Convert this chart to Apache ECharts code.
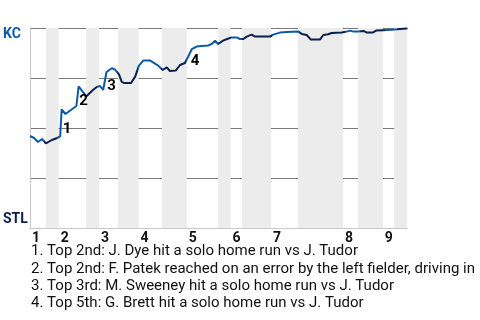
<!DOCTYPE html>
<html><head><meta charset="utf-8">
<script src="https://cdn.jsdelivr.net/npm/echarts@6/dist/echarts.min.js"></script>
<style>html,body{margin:0;padding:0;background:#fff}#c{width:480px;height:320px}</style>
</head><body><div id="c"></div>
<script>
// game progress (0-100) and KC win probability (%)
const progress = [0,1.1,2.1,3.2,4.2,5.8,7.2,8.0,8.1,8.4,9.4,12.3,12.9,14.9,16.7,17.7,18.6,19.4,20.3,21.7,22.5,23.6,24.3,24.9,26.8,27.9,28.9,30.1,31.8,34.0,35.2,36.3,37.1,38.7,39.8,41.1,41.9,42.9,44.2,44.6,45.5,47.3,48.2,49.1,49.9,51.2,52.3,53.5,54.8,55.7,56.6,57.5,58.8,59.7,63.7,64.5,66.3,68.1,71.2,72.1,73.4,74.5,76.9,77.8,79.1,80.0,82.7,84.0,84.9,85.8,87.1,87.5,88.6,89.3,90.9,91.8,93.7,96.8,98.1,99.9,100];
const kcWinProb = [46,45,43,44.5,42.3,44,45,45.8,45.5,59.3,57,61,70.8,65.8,69,70.5,71,69,78,79.9,79.3,76.8,73.2,72.5,72.5,75.7,81.2,83.8,83.8,81.2,79,80.3,78.5,78.8,81.5,82.5,85.5,89.4,90.7,90.4,91,91.3,92,93.7,92,93.7,94.5,95.3,95.3,94.5,94.5,95.7,96.7,95.7,95.7,96.7,97.7,98,98.2,97,96.5,94.2,94.2,96.5,96.9,97.5,97.7,98.2,98.7,98.2,98.2,97.4,98.5,97.7,97.7,98.7,98.9,99.2,99.5,99.7,100];
// half-inning starts (top of 1st ... bottom of 9th) and end of game
const halfStarts = [0,4.2,7.6,14.9,18.3,23.3,28.8,35.0,41.6,49.9,53.2,56.2,63.9,71.1,83.0,87.0,93.6,96.6];
const gameEnd = 100;
const inningLabels = ['1','2','3','4','5','6','7','8','9'];
const teamTop = 'KC', teamBottom = 'STL';
// annotations: label, progress, win prob
const annLabels = ['1','2','3','4'];
const annX = [9.8,14.2,21.6,43.8];
const annY = [49.3,63.3,70.7,83.3];
const notes = [
  '1. Top 2nd: J. Dye hit a solo home run vs J. Tudor',
  '2. Top 2nd: F. Patek reached on an error by the left fielder, driving in',
  '3. Top 3rd: M. Sweeney hit a solo home run vs J. Tudor',
  '4. Top 5th: G. Brett hit a solo home run vs J. Tudor'
];

const BLUE = '#0b5aa8', NAVY = '#0b1f4e';
const topStarts = halfStarts.filter((_, i) => i % 2 === 0);
const bands = [];
const stops = [];
const x0 = progress[0], x1 = progress[progress.length - 1];
for (let i = 0; i < halfStarts.length; i++) {
  const a = halfStarts[i], b = i + 1 < halfStarts.length ? halfStarts[i + 1] : gameEnd;
  if (i % 2 === 1) bands.push([{xAxis: a}, {xAxis: b}]);
  const c = i % 2 === 0 ? BLUE : NAVY;
  const oa = Math.max(0, Math.min(1, (a - x0) / (x1 - x0)));
  const ob = Math.max(0, Math.min(1, (b - x0) / (x1 - x0)));
  stops.push({offset: oa, color: c}, {offset: ob, color: c});
}

const chart = echarts.init(document.getElementById('c'), null, {renderer: 'canvas'});
chart.setOption({
  animation: false,
  textStyle: {fontFamily: 'Roboto'},
  grid: {left: 30, right: 73, top: 28, bottom: 92},
  xAxis: {
    type: 'value', min: 0, max: gameEnd,
    splitLine: {show: false},
    axisLine: {show: true, lineStyle: {color: '#c8c8c8'}},
    axisTick: {show: false},
    axisLabel: {
      customValues: topStarts,
      formatter: v => inningLabels[topStarts.indexOf(v)] || '',
      align: 'left', padding: [0, 0, 0, 2], margin: 3,
      fontSize: 14, fontWeight: 'bold', color: '#111', fontFamily: 'Roboto'
    }
  },
  yAxis: {
    type: 'value', min: 0, max: 100, interval: 25,
    axisLine: {show: true, lineStyle: {color: '#c8c8c8'}},
    axisTick: {show: false},
    splitLine: {show: true, lineStyle: {color: '#7a7a7a', width: 1}},
    axisLabel: {
      align: 'left', margin: 27,
      formatter: v => v === 100 ? '{kc|' + teamTop + '}' : (v === 0 ? '{stl|' + teamBottom + '}' : ''),
      rich: {
        kc: {fontSize: 14, fontWeight: 'bold', color: BLUE, fontFamily: 'Roboto', padding: [12, 0, 0, 0]},
        stl: {fontSize: 14, fontWeight: 'bold', color: NAVY, fontFamily: 'Roboto', padding: [0, 0, 18, 0]}
      }
    }
  },
  series: [
    {
      type: 'line', data: progress.map((x, i) => [x, kcWinProb[i]]),
      showSymbol: false, symbol: 'none',
      lineStyle: {width: 2, color: new echarts.graphic.LinearGradient(0, 0, 1, 0, stops)},
      markArea: {silent: true, itemStyle: {color: '#ececec'}, data: bands},
      z: 3
    },
    {
      type: 'scatter', symbolSize: 0, z: 4, silent: true,
      itemStyle: {opacity: 1},
      data: annX.map((x, i) => [x, annY[i], annLabels[i]]),
      label: {show: true, position: 'inside', formatter: p => p.data[2], opacity: 1,
        fontSize: 15, fontWeight: 'bold', color: '#000', fontFamily: 'Roboto'}
    }
  ],
  graphic: notes.map((t, i) => ({
    type: 'text', left: 31, top: 244 + i * 17.3,
    style: {text: t, fontSize: 15, fontFamily: 'Roboto', fill: '#111'}
  }))
});
</script></body></html>
